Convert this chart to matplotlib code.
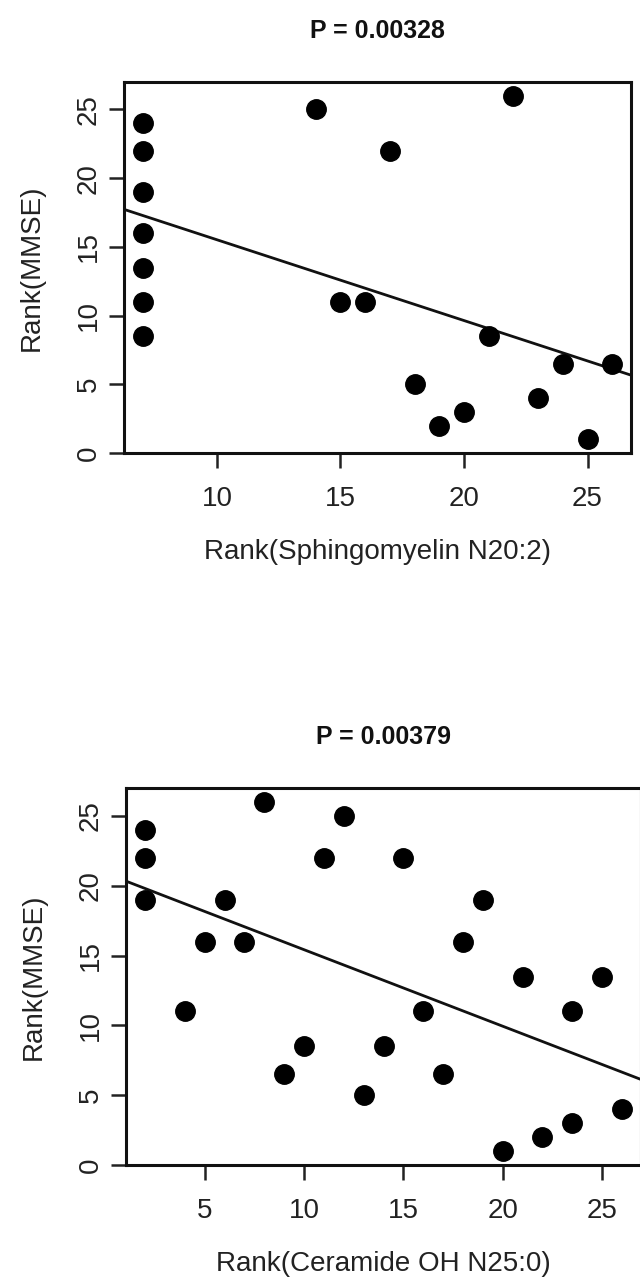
import matplotlib
matplotlib.use("Agg")
import matplotlib.pyplot as plt

plt.rcParams['font.family'] = ['Liberation Sans', 'DejaVu Sans']

# ---- Panel 1: Sphingomyelin N20:2 ----
sm_x = [7, 7, 7, 7, 7, 7, 7, 14, 15, 16, 17, 18, 19, 20, 21, 22, 23, 24, 25, 26]
sm_y = [24, 22, 19, 16, 13.5, 11, 8.5, 25, 11, 11, 22, 5, 2, 3, 8.5, 26, 4, 6.5, 1, 6.5]
sm_fit = (21.4, -0.588)          # intercept, slope
sm_title = "P = 0.00328"
sm_xlabel = "Rank(Sphingomyelin N20:2)"
sm_xticks = [10, 15, 20, 25]

# ---- Panel 2: Ceramide OH N25:0 ----
cer_x = [2, 2, 2, 4, 5, 6, 7, 8, 9, 10, 11, 12, 13, 14, 15, 16, 17, 18, 19,
         20, 21, 22, 23.5, 23.5, 25, 26]
cer_y = [24, 22, 19, 11, 16, 19, 16, 26, 6.5, 8.5, 22, 25, 5, 8.5, 22, 11, 6.5, 16, 19,
         1, 13.5, 2, 11, 3, 13.5, 4]
cer_fit = (20.9, -0.548)
cer_title = "P = 0.00379"
cer_xlabel = "Rank(Ceramide OH N25:0)"
cer_xticks = [5, 10, 15, 20, 25]

ylabel = "Rank(MMSE)"
yticks = [0, 5, 10, 15, 20, 25]

W, H = 640, 1280
fig = plt.figure(figsize=(W / 100, H / 100), dpi=100)
fig.patch.set_facecolor("white")


def rlim(v):
    lo, hi = min(v), max(v)
    d = (hi - lo) * 0.04
    return lo - d, hi + d


def panel(rect, xs, ys, fit, title, xlabel, xticks):
    l, t, r, b = rect
    ax = fig.add_axes([l / W, 1 - b / H, (r - l) / W, (b - t) / H])
    ax.plot(xs, ys, 'o', color='black', ms=14, mec='black', zorder=3)
    ax.set_xlim(*rlim(xs))
    ax.set_ylim(*rlim(ys))
    ax.axline((0, fit[0]), slope=fit[1], color='#111111', lw=2.0, zorder=2)
    ax.set_xticks(xticks)
    ax.set_yticks(yticks)
    for s in ax.spines.values():
        s.set_linewidth(2.2)
        s.set_color('#111111')
    ax.tick_params(axis='both', direction='out', length=11, width=1.8,
                   labelsize=20, colors='#222222')
    ax.tick_params(axis='x', pad=13)
    ax.tick_params(axis='y', pad=5, labelrotation=90)
    for lab in ax.get_yticklabels():
        lab.set_va('center')
    ax.set_title(title, fontsize=18, fontweight='bold', pad=32, color='#111111')
    ax.set_xlabel(xlabel, fontsize=20, color='#222222')
    ax.set_ylabel(ylabel, fontsize=20, color='#222222')
    hpx = b - t
    wpx = r - l
    ax.xaxis.set_label_coords(0.5, -86 / hpx)
    ax.yaxis.set_label_coords(-79 / wpx, 0.5)
    return ax


panel((124, 82, 631, 453), sm_x, sm_y, sm_fit, sm_title, sm_xlabel, sm_xticks)
panel((126, 788, 641, 1165), cer_x, cer_y, cer_fit, cer_title, cer_xlabel, cer_xticks)

fig.savefig("out.png", dpi=100, facecolor="white")
